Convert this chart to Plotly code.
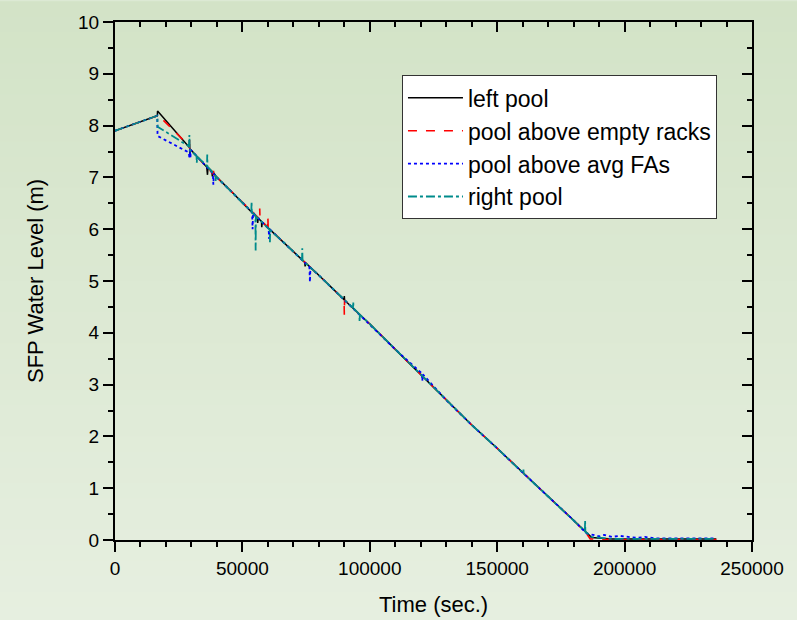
import plotly.graph_objects as go

# ---------------- data ----------------
left_t = [0, 16600, 16700, 28800, 29300, 29400, 29500, 33000, 36000, 36300, 36500, 38000, 38200, 38400,
          40000, 45000, 50000, 54000, 55800, 56000, 56200, 57500, 57600, 57800, 60000, 65000, 70000,
          74500, 74600, 74800, 80000, 85000, 89900, 90000, 90100, 95000, 100000, 110000, 120000,
          130000, 140000, 150000, 160000, 170000, 180000, 185000, 187000, 195000, 236000]
left_y = [7.90, 8.19, 8.28, 7.61, 7.57, 7.45, 7.55, 7.36, 7.20, 7.05, 7.19, 7.12, 7.02, 7.11,
          7.00, 6.76, 6.51, 6.31, 6.22, 6.12, 6.21, 6.15, 6.04, 6.14, 6.03, 5.80, 5.57,
          5.36, 5.28, 5.35, 5.11, 4.87, 4.64, 4.71, 4.63, 4.40, 4.17, 3.68, 3.20,
          2.70, 2.22, 1.77, 1.30, 0.84, 0.38, 0.13, 0.05, 0.02, 0.02]

empty_t = [0, 16600, 16800, 28900, 29200, 29300, 29400, 29600, 33000, 36000, 38600, 38800, 39000,
           40000, 45000, 50000, 55000, 56700, 56800, 56900, 59900, 60000, 60100, 65000, 70000,
           75400, 75500, 75600, 80000, 85000, 89900, 90000, 90100, 95000, 100000, 110000, 120000,
           130000, 140000, 150000, 160000, 170000, 180000, 185000, 186500, 195000, 236000]
empty_y = [7.90, 8.19, 8.21, 7.62, 7.58, 7.77, 7.52, 7.54, 7.36, 7.20, 7.06, 7.18, 7.04,
           7.00, 6.76, 6.51, 6.27, 6.20, 6.40, 6.19, 6.04, 6.24, 6.03, 5.80, 5.57,
           5.32, 5.38, 5.31, 5.11, 4.87, 4.64, 4.35, 4.63, 4.40, 4.17, 3.68, 3.20,
           2.70, 2.22, 1.77, 1.30, 0.84, 0.38, 0.13, 0.02, 0.01, 0.01]

avg_t = [0, 16600, 16700, 29000, 29200, 29400, 29600, 29800, 33000, 36000, 38400, 38600, 38800,
         40000, 45000, 50000, 53800, 54000, 54200, 55000, 60300, 60500, 60700, 65000, 70000,
         76300, 76500, 76700, 80000, 85000, 90000, 95000, 100000, 110000, 120400, 120600, 120800,
         130000, 140000, 150000, 160000, 170000, 180000, 185000, 186000, 188000, 190000, 192000,
         195000, 198000, 202000, 205000, 208000, 212000, 236000]
avg_y = [7.90, 8.19, 7.80, 7.48, 7.36, 7.55, 7.38, 7.53, 7.36, 7.20, 7.08, 6.86, 7.07,
         7.00, 6.76, 6.51, 6.33, 6.00, 6.32, 6.27, 6.01, 5.81, 6.00, 5.80, 5.57,
         5.27, 4.98, 5.26, 5.11, 4.87, 4.64, 4.40, 4.17, 3.68, 3.22, 3.07, 3.20,
         2.70, 2.22, 1.77, 1.30, 0.84, 0.38, 0.13, 0.12, 0.09, 0.07, 0.10,
         0.06, 0.08, 0.05, 0.04, 0.06, 0.03, 0.03]

right_t = [0, 16600, 16700, 29000, 29200, 29400, 29600, 32000, 32100, 32200, 36100, 36200, 36300,
           39400, 39500, 39600, 40000, 45000, 50000, 53500, 53600, 53700, 55100, 55200, 55300,
           60700, 60800, 60900, 65000, 70000, 73400, 73500, 73600, 80000, 85000, 90000, 93400,
           93500, 93600, 95900, 96000, 96100, 100000, 110000, 120000, 130000, 140000, 150000,
           160200, 160300, 160400, 170000, 180000, 184400, 184500, 184600, 187000, 195000, 236000]
right_y = [7.90, 8.19, 7.98, 7.60, 7.82, 7.50, 7.53, 7.41, 7.28, 7.40, 7.22, 7.44, 7.21,
           7.03, 6.93, 7.02, 7.00, 6.76, 6.51, 6.34, 6.53, 6.33, 6.26, 5.59, 6.25,
           5.99, 5.75, 5.98, 5.80, 5.57, 5.41, 5.63, 5.40, 5.11, 4.87, 4.64, 4.48,
           4.60, 4.47, 4.36, 4.21, 4.35, 4.17, 3.68, 3.20, 2.70, 2.22, 1.77,
           1.29, 1.36, 1.28, 0.84, 0.38, 0.17, 0.38, 0.16, 0.06, 0.02, 0.02]

series_names = ["left pool", "pool above empty racks", "pool above avg FAs", "right pool"]

x_tickvals = [0, 50000, 100000, 150000, 200000, 250000]
x_ticktext = ["0", "50000", "100000", "150000", "200000", "250000"]
y_tickvals = [0, 1, 2, 3, 4, 5, 6, 7, 8, 9, 10]
y_ticktext = ["0", "1", "2", "3", "4", "5", "6", "7", "8", "9", "10"]

# ---------------- figure ----------------
FONT = "Liberation Sans, Arial, sans-serif"
fig = go.Figure()

styles = [
    dict(color="#000000", dash="solid", width=1.5),
    dict(color="#ff0000", dash="dash", width=1.6),
    dict(color="#0000ff", dash="dot", width=1.8),
    dict(color="#008b8b", dash="dashdot", width=1.8),
]
data = [(left_t, left_y), (empty_t, empty_y), (avg_t, avg_y), (right_t, right_y)]
for (t, y), name, st in zip(data, series_names, styles):
    fig.add_trace(go.Scatter(x=t, y=y, mode="lines", name=name, line=st))

# dummy traces to register mirrored axes
fig.add_trace(go.Scatter(x=[], y=[], xaxis="x2", yaxis="y", showlegend=False, hoverinfo="skip"))
fig.add_trace(go.Scatter(x=[], y=[], xaxis="x", yaxis="y2", showlegend=False, hoverinfo="skip"))

# gradient background bands
top = (211, 227, 199)
bot = (230, 239, 224)
n = 40
y_hi, y_lo = 1.04, -0.16
shapes = []
for i in range(n):
    f = i / (n - 1)
    c = tuple(round(top[k] + (bot[k] - top[k]) * f) for k in range(3))
    y1 = y_hi - (y_hi - y_lo) * i / n
    y0 = y_hi - (y_hi - y_lo) * (i + 1) / n - 0.002
    shapes.append(dict(type="rect", xref="paper", yref="paper", x0=-0.3, x1=1.3, y0=y0, y1=y1,
                       fillcolor="rgb(%d,%d,%d)" % c, line=dict(width=0), layer="below"))

axis_common = dict(showline=True, linecolor="black", linewidth=2, showgrid=False, zeroline=False,
                   tickcolor="black", tickwidth=2, ticklen=10,
                   tickfont=dict(family=FONT, size=19, color="black"))

fig.update_layout(
    width=797, height=620,
    margin=dict(l=115, r=45, t=16, b=80),
    paper_bgcolor="rgb(220,233,212)",
    plot_bgcolor="rgba(0,0,0,0)",
    shapes=shapes,
    font=dict(family=FONT, color="black"),
    xaxis=dict(range=[0, 250000], tickmode="array", tickvals=x_tickvals, ticktext=x_ticktext,
               ticks="outside",
               minor=dict(tickmode="linear", tick0=0, dtick=10000, ticks="outside", ticklen=5,
                          tickwidth=2, tickcolor="black", showgrid=False),
               **axis_common),
    xaxis2=dict(range=[0, 250000], overlaying="x", side="top", anchor="y", tickmode="array",
                tickvals=x_tickvals, ticks="inside", showticklabels=False,
                minor=dict(tickmode="linear", tick0=0, dtick=10000, ticks="inside", ticklen=5,
                           tickwidth=2, tickcolor="black", showgrid=False),
                **axis_common),
    yaxis=dict(range=[0, 10], tickmode="array", tickvals=y_tickvals, ticktext=y_ticktext,
               ticks="outside",
               minor=dict(tickmode="linear", tick0=0, dtick=0.5, ticks="outside", ticklen=5,
                          tickwidth=2, tickcolor="black", showgrid=False),
               **axis_common),
    yaxis2=dict(range=[0, 10], overlaying="y", side="right", anchor="x", tickmode="array",
                tickvals=y_tickvals, ticks="inside", showticklabels=False,
                minor=dict(tickmode="linear", tick0=0, dtick=0.5, ticks="inside", ticklen=5,
                           tickwidth=2, tickcolor="black", showgrid=False),
                **axis_common),
    legend=dict(x=0.4505, y=0.897, xanchor="left", yanchor="top", bgcolor="white",
                bordercolor="#333333", borderwidth=1, itemwidth=55,
                font=dict(family=FONT, size=23, color="black"), tracegroupgap=0),
    showlegend=True,
    annotations=[
        dict(text="Time (sec.)", xref="paper", yref="paper", x=0.5, y=-0.1245,
             xanchor="center", yanchor="middle", showarrow=False,
             font=dict(family=FONT, size=22, color="black")),
        dict(text="SFP Water Level (m)", xref="paper", yref="paper", x=-0.1256, y=0.5,
             xanchor="center", yanchor="middle", textangle=-90, showarrow=False,
             font=dict(family=FONT, size=22, color="black")),
    ],
)

fig.write_html("out.html", config={"displayModeBar": False},
               post_script="document.body.style.margin='0';document.body.style.padding='0';"
                           "document.documentElement.style.overflow='hidden';")
